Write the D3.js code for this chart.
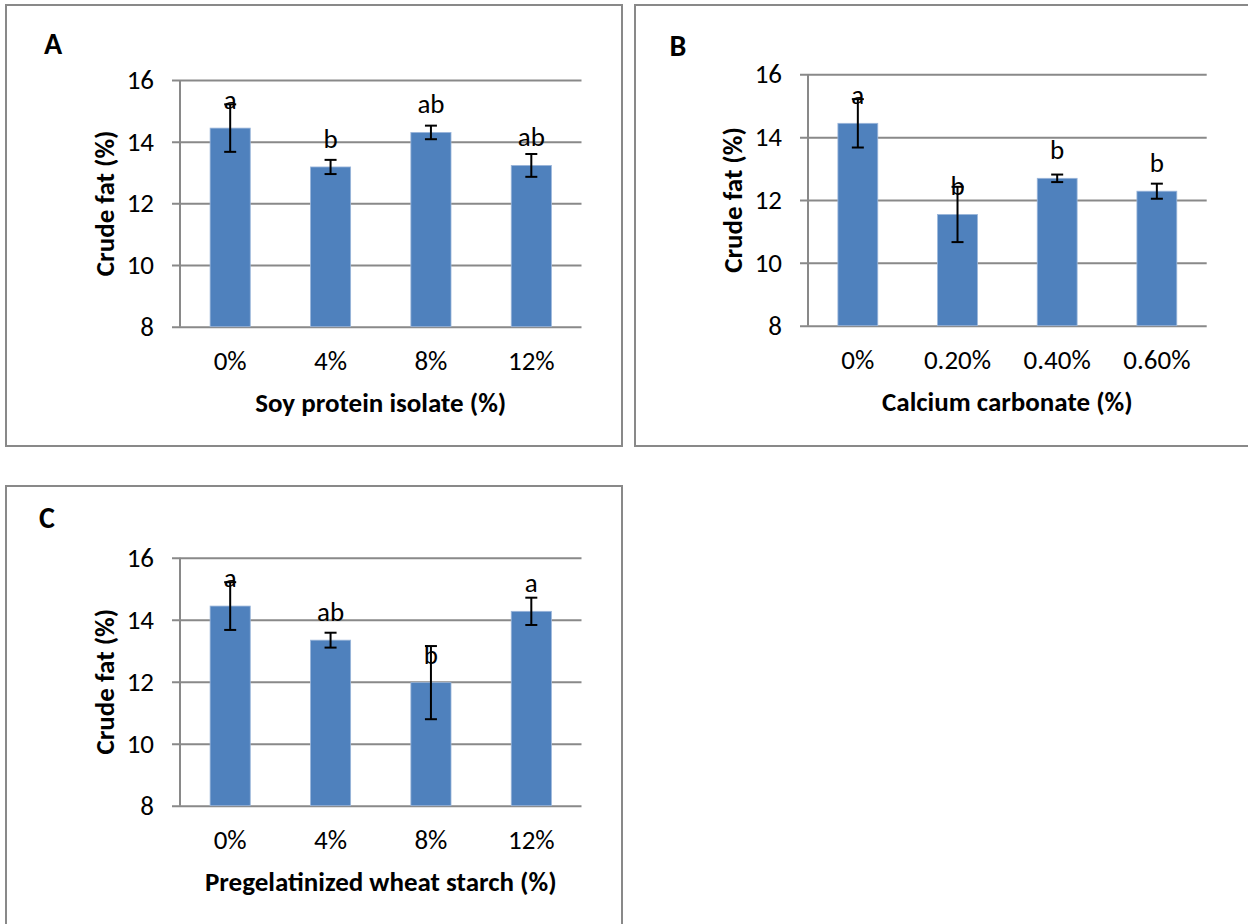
<!DOCTYPE html>
<html>
<head>
<meta charset="utf-8">
<script src="https://cdn.jsdelivr.net/npm/d3@7"></script>
<style>
  html, body { margin: 0; padding: 0; background: #fff; }
  svg { display: block; font-family: Calibri, Carlito, Lato, "Open Sans", sans-serif; }
</style>
</head>
<body>
<svg id="fig" width="1248" height="924"></svg>
<script>
// Crude fat (%) of the product for three formulation factors
const yTicks = [8, 10, 12, 14, 16];
const yTitle = "Crude fat (%)";

// A: soy protein isolate
const spiLevels = ["0%", "4%", "8%", "12%"];
const spiFat = [14.44, 13.18, 14.30, 13.23];
const spiErr = [0.77, 0.23, 0.22, 0.37];
const spiGroups = ["a", "b", "ab", "ab"];

// B: calcium carbonate
const caLevels = ["0%", "0.20%", "0.40%", "0.60%"];
const caFat = [14.44, 11.54, 12.69, 12.28];
const caErr = [0.77, 0.88, 0.12, 0.24];
const caGroups = ["a", "b", "b", "b"];

// C: pregelatinized wheat starch
const pwsLevels = ["0%", "4%", "8%", "12%"];
const pwsFat = [14.44, 13.34, 11.97, 14.27];
const pwsErr = [0.77, 0.24, 1.18, 0.44];
const pwsGroups = ["a", "ab", "b", "a"];

const panelLetters = ["A", "B", "C"];
const xTitles = ["Soy protein isolate (%)", "Calcium carbonate (%)", "Pregelatinized wheat starch (%)"];

const panels = [
  { letter: panelLetters[0], xTitle: xTitles[0], cats: spiLevels, vals: spiFat, errs: spiErr, groups: spiGroups,
    frame: [6, 5, 616, 441], plot: [180, 80, 401.5, 246.7], letterPos: [53, 43] },
  { letter: panelLetters[1], xTitle: xTitles[1], cats: caLevels, vals: caFat, errs: caErr, groups: caGroups,
    frame: [635, 5, 620, 441], plot: [808, 74.3, 398.7, 251.4], letterPos: [678, 45] },
  { letter: panelLetters[2], xTitle: xTitles[2], cats: pwsLevels, vals: pwsFat, errs: pwsErr, groups: pwsGroups,
    frame: [6, 486, 616, 450], plot: [180, 557.7, 401.5, 248], letterPos: [47, 517] }
];

const svg = d3.select("#fig");
const gridColor = "#898989";
const barColor = "#4F81BD";
const fs = 27;

panels.forEach(p => {
  const [fx, fy, fw, fh] = p.frame;
  svg.append("rect")
    .attr("x", fx).attr("y", fy).attr("width", fw).attr("height", fh)
    .attr("fill", "#fff").attr("stroke", gridColor).attr("stroke-width", 2);

  const [px, py, pw, ph] = p.plot;
  const g = svg.append("g").attr("transform", `translate(${px},${py})`);

  const x = d3.scaleBand().domain(p.cats).range([0, pw]).paddingInner(0.6).paddingOuter(0.3);
  const y = d3.scaleLinear().domain([8, 16]).range([ph, 0]);

  // horizontal gridlines with short outward ticks
  const yAxis = d3.axisLeft(y).tickValues(yTicks).tickSize(-pw).tickPadding(26).tickFormat(d3.format("d"));
  const ya = g.append("g").call(yAxis).attr("font-family", null).attr("font-size", fs);
  ya.select(".domain").remove();
  ya.selectAll(".tick line").attr("stroke", gridColor).attr("stroke-width", 2).attr("x1", -8);
  ya.selectAll(".tick text").attr("fill", "#000");

  // vertical axis line
  g.append("line").attr("x1", 0).attr("x2", 0).attr("y1", 0).attr("y2", ph)
    .attr("stroke", gridColor).attr("stroke-width", 2);

  // category labels
  const xAxis = d3.axisBottom(x).tickSize(0).tickPadding(24);
  const xa = g.append("g").attr("transform", `translate(0,${ph})`).call(xAxis)
    .attr("font-family", null).attr("font-size", fs);
  xa.select(".domain").remove();
  xa.selectAll(".tick text").attr("fill", "#000");

  const rows = p.cats.map((c, i) => ({ c, v: p.vals[i], e: p.errs[i], grp: p.groups[i] }));

  // bars
  g.selectAll(".bar").data(rows).join("rect")
    .attr("class", "bar")
    .attr("x", d => x(d.c)).attr("width", x.bandwidth())
    .attr("y", d => y(d.v)).attr("height", d => y(8) - y(d.v))
    .attr("fill", barColor).attr("stroke", "#9bb6da").attr("stroke-width", 0.8);

  // error bars
  const cap = 6;
  const eg = g.selectAll(".err").data(rows).join("g").attr("class", "err")
    .attr("stroke", "#000").attr("stroke-width", 2);
  eg.append("line")
    .attr("x1", d => x(d.c) + x.bandwidth() / 2).attr("x2", d => x(d.c) + x.bandwidth() / 2)
    .attr("y1", d => y(d.v + d.e)).attr("y2", d => y(d.v - d.e));
  eg.append("line")
    .attr("x1", d => x(d.c) + x.bandwidth() / 2 - cap).attr("x2", d => x(d.c) + x.bandwidth() / 2 + cap)
    .attr("y1", d => y(d.v + d.e)).attr("y2", d => y(d.v + d.e));
  eg.append("line")
    .attr("x1", d => x(d.c) + x.bandwidth() / 2 - cap).attr("x2", d => x(d.c) + x.bandwidth() / 2 + cap)
    .attr("y1", d => y(d.v - d.e)).attr("y2", d => y(d.v - d.e));

  // significance letters above bars
  g.selectAll(".grp").data(rows).join("text")
    .attr("class", "grp")
    .attr("x", d => x(d.c) + x.bandwidth() / 2)
    .attr("y", d => y(d.v) - 19)
    .attr("text-anchor", "middle").attr("font-size", fs).attr("fill", "#000")
    .text(d => d.grp);

  // axis titles
  g.append("text")
    .attr("x", pw / 2).attr("y", ph + 85)
    .attr("text-anchor", "middle").attr("font-size", fs).attr("font-weight", "bold")
    .text(p.xTitle);
  g.append("text")
    .attr("transform", `translate(${-75},${ph / 2}) rotate(-90)`)
    .attr("text-anchor", "middle").attr("dy", "0.33em")
    .attr("font-size", fs).attr("font-weight", "bold")
    .text(yTitle);

  // panel letter
  svg.append("text")
    .attr("x", p.letterPos[0]).attr("y", p.letterPos[1])
    .attr("text-anchor", "middle").attr("dy", "0.35em")
    .attr("font-size", 30).attr("font-weight", "bold")
    .text(p.letter);
});
</script>
</body>
</html>
